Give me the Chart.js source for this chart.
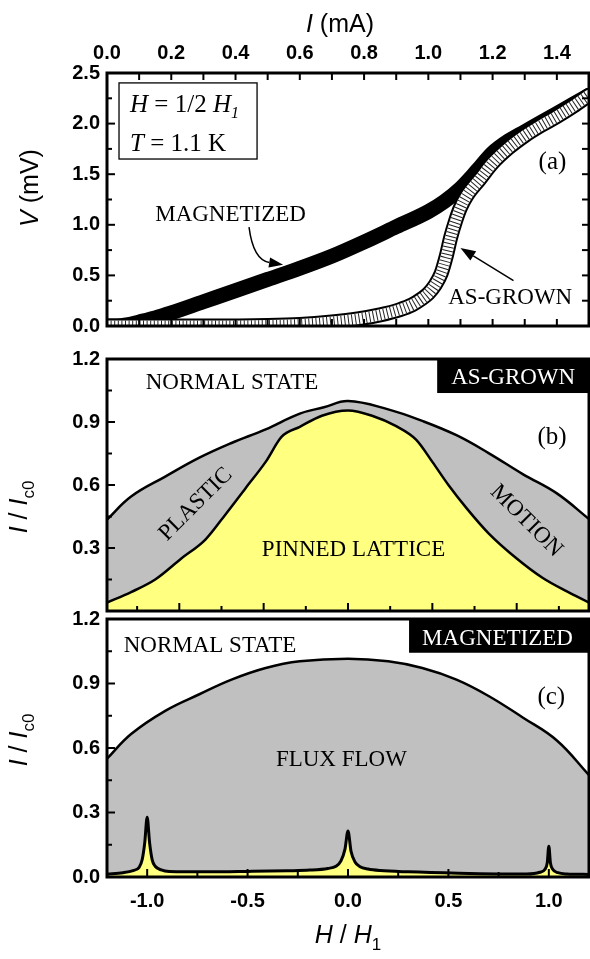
<!DOCTYPE html>
<html><head><meta charset="utf-8">
<script src="https://cdn.jsdelivr.net/npm/chart.js@4.4.0/dist/chart.umd.min.js"></script>
<style>
html,body{margin:0;padding:0;background:#fff;width:590px;height:959px;overflow:hidden}
canvas{position:absolute;left:0}
</style></head><body>
<canvas id="ca" width="590" height="345" style="top:0px"></canvas>
<canvas id="cb" width="590" height="290" style="top:340px"></canvas>
<canvas id="cc" width="590" height="359" style="top:600px"></canvas>
<script>
// ---------------- data ----------------
const I_TICKS = [0, 0.2, 0.4, 0.6, 0.8, 1.0, 1.2, 1.4];
const I_MARKS = [0.1, 0.2, 0.3, 0.4, 0.5, 0.6, 0.7, 0.8, 0.9, 1.0, 1.1, 1.2, 1.3, 1.4];
const V_TICKS = [0, 0.5, 1.0, 1.5, 2.0, 2.5];
const V_MINOR = [0.25, 0.75, 1.25, 1.75, 2.25];
const IC_TICKS = [0, 0.3, 0.6, 0.9, 1.2];
const IC_MINOR = [0.15, 0.45, 0.75, 1.05];
const H_TICKS = [-1.0, -0.5, 0, 0.5, 1.0];
const H_MINOR = [-0.75, -0.25, 0.25, 0.75];
const B_X_MAJOR = [-0.84, -0.42, 0, 0.42, 0.84];
const B_X_MINOR = [-1.05, -0.63, -0.21, 0.21, 0.63, 1.05];

// (a) V-I curves
const MAG_I = [0, 0.03, 0.06, 0.10, 0.15, 0.20, 0.30, 0.40, 0.50, 0.60, 0.70, 0.80, 0.90, 1.00, 1.05, 1.10, 1.15, 1.20, 1.25, 1.30, 1.35, 1.40, 1.45, 1.50];
const MAG_V = [0, 0, 0.01, 0.04, 0.08, 0.13, 0.24, 0.35, 0.46, 0.57, 0.69, 0.83, 0.98, 1.13, 1.23, 1.36, 1.53, 1.71, 1.83, 1.92, 2.01, 2.10, 2.19, 2.28];
const ASG_I = [0, 0.30, 0.50, 0.60, 0.70, 0.78, 0.85, 0.91, 0.95, 0.98, 1.00, 1.02, 1.04, 1.055, 1.07, 1.085, 1.10, 1.12, 1.16, 1.20, 1.25, 1.30, 1.35, 1.40, 1.45, 1.50];
const ASG_V = [0, 0, 0.005, 0.015, 0.04, 0.07, 0.11, 0.16, 0.21, 0.27, 0.32, 0.40, 0.52, 0.68, 0.88, 1.04, 1.17, 1.29, 1.45, 1.61, 1.76, 1.88, 1.98, 2.07, 2.17, 2.28];

// (b) as-grown phase diagram
const B_OUT_H = [-1.2, -1.08, -0.91, -0.74, -0.58, -0.41, -0.24, -0.12, 0, 0.2, 0.37, 0.54, 0.70, 0.87, 1.04, 1.2];
const B_OUT_V = [0.435, 0.545, 0.64, 0.73, 0.80, 0.865, 0.94, 0.97, 1.00, 0.96, 0.905, 0.837, 0.752, 0.652, 0.56, 0.438];
const B_IN_H = [-1.2, -1.08, -0.96, -0.83, -0.71, -0.61, -0.51, -0.41, -0.33, -0.24, -0.13, 0, 0.12, 0.24, 0.34, 0.42, 0.50, 0.59, 0.70, 0.84, 0.97, 1.09, 1.2];
const B_IN_V = [0.04, 0.09, 0.15, 0.25, 0.34, 0.46, 0.585, 0.71, 0.83, 0.877, 0.93, 0.955, 0.93, 0.88, 0.815, 0.71, 0.60, 0.49, 0.37, 0.25, 0.157, 0.093, 0.04];

// (c) magnetized phase diagram
const C_OUT_H = [-1.2, -1.08, -0.91, -0.74, -0.58, -0.41, -0.24, 0, 0.2, 0.37, 0.54, 0.70, 0.87, 1.04, 1.2];
const C_OUT_V = [0.55, 0.665, 0.773, 0.85, 0.918, 0.972, 1.003, 1.015, 1.003, 0.972, 0.918, 0.842, 0.742, 0.635, 0.474];
const C_IN_H = [-1.2, -1.12, -1.07, -1.04, -1.025, -1.012, -1.0, -0.988, -0.975, -0.96, -0.93, -0.89, -0.7, -0.5, -0.3, -0.19, -0.1, -0.06, -0.035, -0.015, 0.0, 0.015, 0.035, 0.06, 0.1, 0.16, 0.3, 0.55, 0.89, 0.955, 0.98, 0.992, 1.0, 1.008, 1.02, 1.045, 1.09, 1.2];
const C_IN_V = [0.014, 0.02, 0.03, 0.045, 0.08, 0.16, 0.278, 0.16, 0.08, 0.05, 0.033, 0.026, 0.024, 0.026, 0.029, 0.032, 0.04, 0.05, 0.075, 0.13, 0.214, 0.12, 0.07, 0.048, 0.037, 0.03, 0.024, 0.018, 0.014, 0.022, 0.035, 0.065, 0.143, 0.065, 0.035, 0.02, 0.014, 0.012];

// ---------------- helpers ----------------
const SERIF = "'Liberation Serif','Times New Roman',serif";
const SANS = "'Liberation Sans',Arial,sans-serif";
const tickFont = {family: SANS, size: 20, weight: 'bold'};
const pts = (xs, ys) => xs.map((x, i) => ({x, y: ys[i]}));
const fixTicks = arr => s => { s.ticks = arr.map(v => ({value: v})); };
const fmt = v => Number(v).toFixed(1);

function fontOf(r){ return (r.it ? 'italic ' : '') + (r.b ? 'bold ' : '') + r.sz + 'px ' + r.fam; }
function runsWidth(ctx, runs){ let w = 0; runs.forEach(r => { ctx.font = fontOf(r); w += ctx.measureText(r.t).width; }); return w; }
function drawRuns(ctx, runs, align, color){
  let x = align === 'center' ? -runsWidth(ctx, runs) / 2 : 0;
  runs.forEach(r => { ctx.font = fontOf(r); ctx.fillStyle = r.color || color; ctx.fillText(r.t, x, r.dy || 0); x += ctx.measureText(r.t).width; });
}

// frame + inward tick marks, built from the chart's own scales
function makeFrame(marks, width){
  return {
    id: 'frame',
    afterDatasetsDraw(chart){
      const {ctx, chartArea: a} = chart;
      ctx.save();
      ctx.strokeStyle = '#000'; ctx.lineCap = 'butt';
      marks.forEach(m => {
        const sc = chart.scales[m.scale];
        ctx.lineWidth = 2;
        m.values.forEach(v => {
          const p = sc.getPixelForValue(v);
          ctx.beginPath();
          if (m.side === 'left') { ctx.moveTo(a.left, p); ctx.lineTo(a.left + m.len, p); }
          if (m.side === 'right') { ctx.moveTo(a.right, p); ctx.lineTo(a.right - m.len, p); }
          if (m.side === 'top') { ctx.moveTo(p, a.top); ctx.lineTo(p, a.top + m.len); }
          if (m.side === 'bottom') { ctx.moveTo(p, a.bottom); ctx.lineTo(p, a.bottom - m.len); }
          ctx.stroke();
        });
      });
      ctx.lineWidth = width;
      ctx.strokeRect(a.left, a.top, a.right - a.left, a.bottom - a.top);
      ctx.restore();
    }
  };
}

// text labels, boxes and arrows placed in data coordinates (or offsets from the plot area)
function makeNotes(items){
  return {
    id: 'notes',
    afterDatasetsDraw(chart){
      const {ctx, chartArea: a} = chart;
      const X = v => chart.scales.x.getPixelForValue(v), Y = v => chart.scales.y.getPixelForValue(v);
      const P = (it, x, y) => it.area ? [a.left + x, a.top + y] : [X(x), Y(y)];
      ctx.save();
      items.forEach(it => {
        if (it.type === 'rect') {
          const [x1, y1] = P(it, it.x1, it.y1), [x2, y2] = P(it, it.x2, it.y2);
          if (it.fill) { ctx.fillStyle = it.fill; ctx.fillRect(x1, y1, x2 - x1, y2 - y1); }
          if (it.stroke) { ctx.strokeStyle = it.stroke; ctx.lineWidth = it.lw || 1; ctx.strokeRect(x1, y1, x2 - x1, y2 - y1); }
        } else if (it.type === 'text') {
          const [x, y] = P(it, it.x, it.y);
          ctx.save(); ctx.translate(x, y); if (it.rot) ctx.rotate(it.rot * Math.PI / 180);
          ctx.textBaseline = it.base || 'alphabetic'; ctx.textAlign = 'left';
          drawRuns(ctx, it.runs, it.align, it.color || '#000');
          ctx.restore();
        } else if (it.type === 'arrow') {
          const [x0, y0] = P(it, it.from[0], it.from[1]);
          const [x1, y1] = P(it, it.to[0], it.to[1]);
          let cx = x0, cy = y0;
          if (it.ctrl) [cx, cy] = P(it, it.ctrl[0], it.ctrl[1]);
          const ang = Math.atan2(y1 - cy, x1 - cx);
          const L = it.head || 14, W = it.hw || 5;
          const bx = x1 - L * Math.cos(ang), by = y1 - L * Math.sin(ang);
          ctx.strokeStyle = '#000'; ctx.fillStyle = '#000'; ctx.lineWidth = it.lw || 1.5;
          ctx.beginPath(); ctx.moveTo(x0, y0);
          if (it.ctrl) ctx.quadraticCurveTo(cx, cy, bx, by); else ctx.lineTo(bx, by);
          ctx.stroke();
          ctx.beginPath(); ctx.moveTo(x1, y1);
          ctx.lineTo(bx + W * Math.sin(ang), by - W * Math.cos(ang));
          ctx.lineTo(bx - W * Math.sin(ang), by + W * Math.cos(ang));
          ctx.closePath(); ctx.fill();
        }
      });
      ctx.restore();
    }
  };
}

const S = (t, sz, extra) => Object.assign({t, sz, fam: SERIF}, extra || {});
const A = (t, sz, extra) => Object.assign({t, sz, fam: SANS}, extra || {});

const baseOpts = {
  responsive: false, animation: false, events: [],
  elements: {point: {radius: 0}, line: {cubicInterpolationMode: 'monotone', borderCapStyle: 'round', borderJoinStyle: 'round'}},
};
const noGrid = {display: false, drawTicks: false};
const quiet = {legend: {display: false}, tooltip: {enabled: false}};

// ---------------- (a) ----------------
new Chart(document.getElementById('ca'), {
  type: 'line',
  data: {datasets: [
    {data: pts(MAG_I, MAG_V), borderColor: '#000', borderWidth: 15, fill: false, order: 4},
    {data: pts(ASG_I, ASG_V), borderColor: '#000', borderWidth: 15, fill: false, order: 3},
    {data: pts(ASG_I, ASG_V), borderColor: '#fff', borderWidth: 11, fill: false, order: 2},
    {data: pts(ASG_I, ASG_V), borderColor: '#222', borderWidth: 11, borderDash: [1, 2.6], borderCapStyle: 'butt', fill: false, order: 1}
  ]},
  options: Object.assign({}, baseOpts, {
    layout: {padding: {left: 0, right: 1, top: 0, bottom: 16}},
    plugins: quiet,
    scales: {
      x: {type: 'linear', position: 'top', min: 0, max: 1.5, afterBuildTicks: fixTicks(I_TICKS), afterFit: s => { s.height = 73; },
          grid: noGrid, border: {display: false},
          ticks: {font: tickFont, color: '#000', padding: 8, callback: fmt, maxRotation: 0, autoSkip: false}},
      y: {type: 'linear', min: 0, max: 2.5, afterBuildTicks: fixTicks(V_TICKS), afterFit: s => { s.width = 107; },
          grid: noGrid, border: {display: false},
          ticks: {font: tickFont, color: '#000', padding: 7, callback: fmt, autoSkip: false}}
    }
  }),
  plugins: [
    makeFrame([
      {scale: 'y', side: 'left', values: V_TICKS, len: 8},
      {scale: 'y', side: 'left', values: V_MINOR, len: 5},
      {scale: 'y', side: 'right', values: V_TICKS.concat(V_MINOR), len: 7},
      {scale: 'x', side: 'top', values: I_MARKS, len: 7},
      {scale: 'x', side: 'bottom', values: I_MARKS, len: 7}
    ], 3),
    makeNotes([
      {type: 'rect', x1: 0.0374, y1: 2.402, x2: 0.467, y2: 1.650, stroke: '#000', lw: 1.3},
      {type: 'text', x: 0.0717, y: 2.119, runs: [S('H', 25, {it: 1}), S(' = 1/2 ', 25), S('H', 25, {it: 1}), S('1', 16, {it: 1, dy: 6})]},
      {type: 'text', x: 0.0717, y: 1.729, runs: [S('T', 25, {it: 1}), S(' = 1.1 K', 25)]},
      {type: 'text', x: 0.15, y: 1.035, runs: [S('MAGNETIZED', 23)]},
      {type: 'text', x: 1.062, y: 0.215, runs: [S('AS-GROWN', 23)]},
      {type: 'text', x: 1.343, y: 1.553, runs: [S('(a)', 25)]},
      {type: 'arrow', from: [0.442, 0.977], ctrl: [0.455, 0.654], to: [0.548, 0.605], head: 14, hw: 5, lw: 1.5},
      {type: 'arrow', from: [1.265, 0.449], to: [1.100, 0.771], head: 15, hw: 5.5, lw: 1.5},
      {type: 'text', area: 1, x: 233, y: -41, align: 'center', runs: [A('I', 25, {it: 1}), A(' (mA)', 25)]},
      {type: 'text', area: 1, x: -69, y: 115, rot: -90, align: 'center', runs: [A('V', 25, {it: 1}), A(' (mV)', 25)]}
    ])
  ]
});

// ---------------- (b) ----------------
new Chart(document.getElementById('cb'), {
  type: 'line',
  data: {datasets: [
    {data: pts(B_OUT_H, B_OUT_V), borderColor: '#000', borderWidth: 2.5, backgroundColor: '#c0c0c0', fill: 'origin', cubicInterpolationMode: 'default', tension: 0.4, order: 2},
    {data: pts(B_IN_H, B_IN_V), borderColor: '#000', borderWidth: 2.5, backgroundColor: '#ffff80', fill: 'origin', order: 1}
  ]},
  options: Object.assign({}, baseOpts, {
    layout: {padding: {left: 0, right: 1, top: 17, bottom: 13}},
    plugins: quiet,
    scales: {
      x: {type: 'linear', min: -1.2, max: 1.2, display: false},
      y: {type: 'linear', min: 0, max: 1.2, afterBuildTicks: fixTicks(IC_TICKS), afterFit: s => { s.width = 107; },
          grid: noGrid, border: {display: false},
          ticks: {font: tickFont, color: '#000', padding: 7, callback: v => v === 0 ? '' : fmt(v), autoSkip: false}}
    }
  }),
  plugins: [
    makeFrame([
      {scale: 'y', side: 'left', values: IC_TICKS, len: 8},
      {scale: 'y', side: 'left', values: IC_MINOR, len: 5},
      {scale: 'x', side: 'bottom', values: B_X_MAJOR, len: 8},
      {scale: 'x', side: 'bottom', values: B_X_MINOR, len: 5}
    ], 3),
    makeNotes([
      {type: 'text', x: -1.0075, y: 1.057, runs: [S('NORMAL STATE', 23)]},
      {type: 'rect', x1: 0.444, y1: 1.2, x2: 1.2, y2: 1.038, fill: '#000'},
      {type: 'text', x: 0.514, y: 1.080, color: '#fff', runs: [S('AS-GROWN', 23)]},
      {type: 'text', x: 0.943, y: 0.794, runs: [S('(b)', 25)]},
      {type: 'text', x: -0.758, y: 0.508, rot: -45, align: 'center', base: 'middle', runs: [S('PLASTIC', 23)]},
      {type: 'text', x: 0.888, y: 0.429, rot: 45, align: 'center', base: 'middle', runs: [S('MOTION', 23)]},
      {type: 'text', x: -0.429, y: 0.263, runs: [S('PINNED LATTICE', 23)]},
      {type: 'text', area: 1, x: -80, y: 148, rot: -90, align: 'center', runs: [A('I', 25, {it: 1}), A(' / ', 25), A('I', 25, {it: 1}), A('c0', 17, {dy: 7})]}
    ])
  ]
});

// ---------------- (c) ----------------
new Chart(document.getElementById('cc'), {
  type: 'line',
  data: {datasets: [
    {data: pts(C_OUT_H, C_OUT_V), borderColor: '#000', borderWidth: 2.5, backgroundColor: '#c0c0c0', fill: 'origin', cubicInterpolationMode: 'default', tension: 0.4, order: 2},
    {data: pts(C_IN_H, C_IN_V), borderColor: '#000', borderWidth: 3, backgroundColor: '#ffff80', fill: 'origin', order: 1}
  ]},
  options: Object.assign({}, baseOpts, {
    layout: {padding: {left: 0, right: 1, top: 17, bottom: 0}},
    plugins: quiet,
    scales: {
      x: {type: 'linear', position: 'bottom', min: -1.2, max: 1.2, afterBuildTicks: fixTicks(H_TICKS), afterFit: s => { s.height = 82; },
          grid: noGrid, border: {display: false},
          ticks: {font: tickFont, color: '#000', padding: 12, callback: fmt, maxRotation: 0, autoSkip: false}},
      y: {type: 'linear', min: 0, max: 1.2, afterBuildTicks: fixTicks(IC_TICKS), afterFit: s => { s.width = 107; },
          grid: noGrid, border: {display: false},
          ticks: {font: tickFont, color: '#000', padding: 7, callback: fmt, autoSkip: false}}
    }
  }),
  plugins: [
    makeFrame([
      {scale: 'y', side: 'left', values: IC_TICKS, len: 8},
      {scale: 'y', side: 'left', values: IC_MINOR, len: 5},
      {scale: 'x', side: 'bottom', values: H_TICKS, len: 8},
      {scale: 'x', side: 'bottom', values: H_MINOR, len: 5}
    ], 3),
    makeNotes([
      {type: 'text', x: -1.117, y: 1.0475, runs: [S('NORMAL STATE', 23)]},
      {type: 'rect', x1: 0.304, y1: 1.2, x2: 1.2, y2: 1.043, fill: '#000'},
      {type: 'text', x: 0.369, y: 1.08, color: '#fff', runs: [S('MAGNETIZED', 23)]},
      {type: 'text', x: 0.943, y: 0.803, runs: [S('(c)', 25)]},
      {type: 'text', x: -0.359, y: 0.517, runs: [S('FLUX FLOW', 23)]},
      {type: 'text', area: 1, x: -80, y: 121, rot: -90, align: 'center', runs: [A('I', 25, {it: 1}), A(' / ', 25), A('I', 25, {it: 1}), A('c0', 17, {dy: 7})]},
      {type: 'text', area: 1, x: 241, y: 324, align: 'center', runs: [A('H', 25, {it: 1}), A(' / ', 25), A('H', 25, {it: 1}), A('1', 17, {dy: 7})]}
    ])
  ]
});
</script>
</body></html>
